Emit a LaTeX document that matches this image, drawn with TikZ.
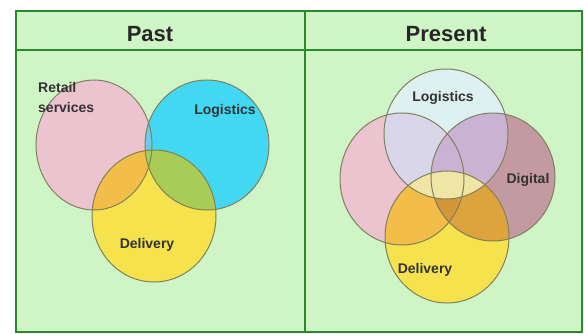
\documentclass[tikz,border=0pt]{standalone}
\usepackage{fontspec}
\setmainfont{Liberation Sans}
\usepackage{tikz}

\definecolor{boardgreen}{HTML}{CFF5C6}
\definecolor{framegreen}{HTML}{2A8A2A}
\definecolor{rimgrey}{HTML}{80805E}
\definecolor{retailpink}{HTML}{EBC4D0}
\definecolor{logicyan}{HTML}{42D8F2}
\definecolor{deliveryyellow}{HTML}{F5E24C}
\definecolor{mixorange}{HTML}{F2BE48}
\definecolor{mixgreen}{HTML}{A9CC56}
\definecolor{mixblue}{HTML}{6CCBE6}
\definecolor{paleblue}{HTML}{DDF1F0}
\definecolor{digitalbrown}{HTML}{C49AA2}
\definecolor{lavender}{HTML}{DAD6EA}
\definecolor{mauve}{HTML}{C9B2D2}
\definecolor{paleyellow}{HTML}{EFE6A6}
\definecolor{darkorange}{HTML}{DDA43E}
\definecolor{deeporange}{HTML}{D4963A}

\tikzset{
  rim/.style={draw=rimgrey, line width=1pt},
  headtext/.style={font=\bfseries\fontsize{22}{24}\selectfont, text=black!85},
  settext/.style={font=\bfseries\fontsize{14}{20}\selectfont, text=black!80, inner sep=0pt},
}

% past sets
\def\pastretail{(94,145) ellipse [x radius=58, y radius=65]}
\def\pastlogi{(207,145) ellipse [x radius=62, y radius=65]}
\def\pastdeliv{(154,216) ellipse [x radius=62, y radius=66]}
% present sets
\def\nowretail{(402,179) ellipse [x radius=62, y radius=66]}
\def\nowdigi{(493,177) ellipse [x radius=62, y radius=64]}
\def\nowlogi{(446,134) ellipse [x radius=62, y radius=65]}
\def\nowdeliv{(447,237) ellipse [x radius=62, y radius=66]}

\begin{document}
\begin{tikzpicture}[x=1pt,y=-1pt]
    \useasboundingbox (0,0) rectangle (584,334);
    \fill[white] (0,0) rectangle (584,334);
    \fill[boardgreen] (16,11) rectangle (582,332);

    % past
    \fill[retailpink] \pastretail;
    \fill[logicyan] \pastlogi;
    \fill[deliveryyellow] \pastdeliv;
    \begin{scope}
        \clip \pastretail;
        \fill[mixblue] \pastlogi;
        \fill[mixorange] \pastdeliv;
    \end{scope}
    \begin{scope}
        \clip \pastlogi;
        \fill[mixgreen] \pastdeliv;
    \end{scope}
    \draw[rim] \pastretail;
    \draw[rim] \pastlogi;
    \draw[rim] \pastdeliv;

    % present
    \fill[retailpink] \nowretail;
    \fill[digitalbrown] \nowdigi;
    \fill[paleblue] \nowlogi;
    \fill[deliveryyellow] \nowdeliv;
    \begin{scope}
        \clip \nowretail;
        \fill[mauve] \nowdigi;
        \fill[lavender] \nowlogi;
        \fill[mixorange] \nowdeliv;
    \end{scope}
    \begin{scope}
        \clip \nowdigi;
        \fill[mauve] \nowlogi;
        \fill[darkorange] \nowdeliv;
    \end{scope}
    \begin{scope}
        \clip \nowretail;
        \clip \nowdigi;
        \fill[deeporange] \nowdeliv;
    \end{scope}
    \begin{scope}
        \clip \nowlogi;
        \fill[paleyellow] \nowdeliv;
    \end{scope}
    \draw[rim] \nowretail;
    \draw[rim] \nowdigi;
    \draw[rim] \nowlogi;
    \draw[rim] \nowdeliv;

    % frame
    \draw[framegreen, line width=2.4pt] (16,11) rectangle (582,332);
    \draw[framegreen, line width=2.4pt] (16,50) -- (582,50);
    \draw[framegreen, line width=2.4pt] (305,11) -- (305,332);

    \node[headtext] (past) at (150,34) {Past};
    \node[headtext] (present) at (446,34) {Present};

    \node[settext, anchor=north west, align=left] (pastretailtxt) at (38,82) {Retail\\services};
    \node[settext] (pastlogitxt) at (225,111) {Logistics};
    \node[settext] (pastdelivtxt) at (147,245) {Delivery};
    \node[settext] (nowlogitxt) at (443,98) {Logistics};
    \node[settext] (nowdigitxt) at (528,180) {Digital};
    \node[settext] (nowdelivtxt) at (425,270) {Delivery};
\end{tikzpicture}
\end{document}
